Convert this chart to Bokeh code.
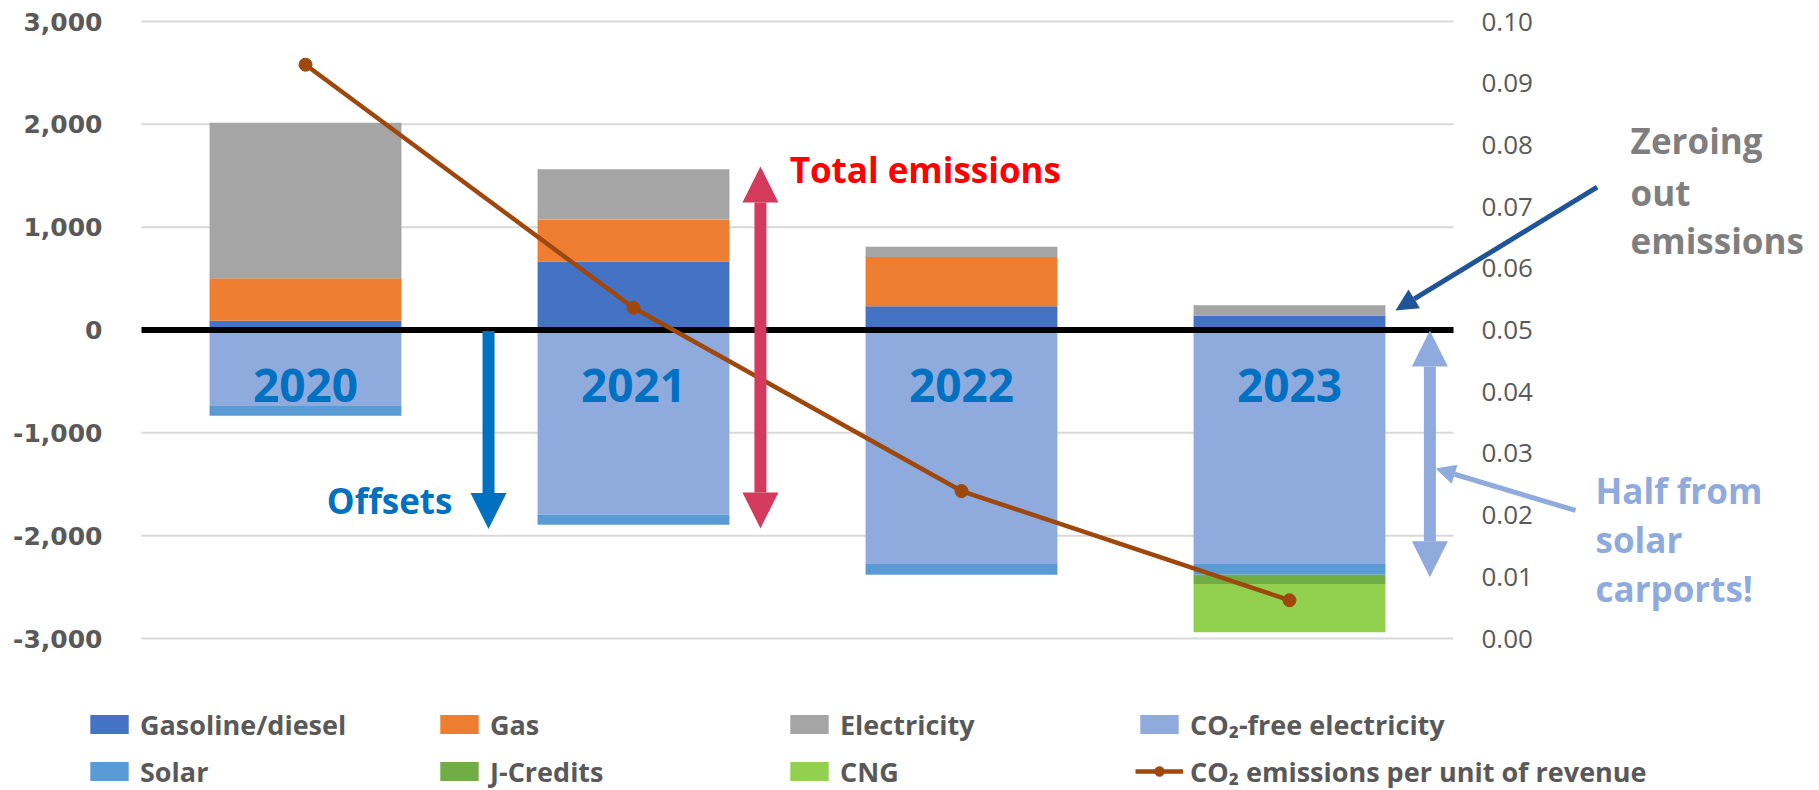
from bokeh.plotting import figure
from bokeh.models import (Range1d, Arrow, NormalHead, Label, Legend, LegendItem, ColumnDataSource)
from bokeh.core.properties import value
from bokeh.embed import file_html
from bokeh.resources import INLINE

# ---------------- data ----------------
years = ["2020", "2021", "2022", "2023"]
gasoline = [90, 666, 230, 140]
gas = [414, 409, 480, 0]
electricity = [1511, 489, 100, 100]
co2_free = [-740, -1795, -2275, -2275]
solar = [-95, -100, -105, -105]
j_credits = [0, 0, 0, -90]
cng = [0, 0, 0, -470]
intensity = [0.093, 0.0536, 0.0239, 0.0062]
left_ticks = [-3000, -2000, -1000, 0, 1000, 2000, 3000]
right_ticks = [0.00, 0.01, 0.02, 0.03, 0.04, 0.05, 0.06, 0.07, 0.08, 0.09, 0.10]

pos_names = ["Gasoline/diesel", "Gas", "Electricity"]
neg_names = ["CO₂-free electricity", "Solar", "J-Credits", "CNG"]
line_name = "CO₂ emissions per unit of revenue"
pos_colors = ["#4472C4", "#ED7D31", "#A5A5A5"]
neg_colors = ["#8FAADC", "#5B9BD5", "#70AD47", "#92D050"]
line_color = "#9E480E"

xpos = [i + 0.5 for i in range(len(years))]
src = ColumnDataSource(dict(x=xpos, years=years, g=gasoline, ga=gas, e=electricity,
                            c=co2_free, s=solar, j=j_credits, n=cng, r=intensity))

# layout geometry (pixels)
PX_PER_UNIT_Y = 617 / 6000.0
PX_PER_CAT = 328.0
PLOT_LEFT = 141
Y_HI = 3000 + 21 / PX_PER_UNIT_Y
Y_LO = -3000 - (790 - 638) / PX_PER_UNIT_Y
X_LO = -PLOT_LEFT / PX_PER_CAT
X_HI = (1819 - PLOT_LEFT) / PX_PER_CAT
n_cat = len(years)

def px_x(px):
    return (px - PLOT_LEFT) / PX_PER_CAT

def to_right(v):
    return (v - left_ticks[0]) / (left_ticks[-1] - left_ticks[0]) * (right_ticks[-1] - right_ticks[0]) + right_ticks[0]

p = figure(width=1819, height=790, x_range=Range1d(X_LO, X_HI), y_range=Range1d(Y_LO, Y_HI),
           output_backend="svg", toolbar_location=None, x_axis_location=None, y_axis_location=None,
           min_border_left=0, min_border_right=0, min_border_top=0, min_border_bottom=0)
p.outline_line_color = None
p.background_fill_color = "white"
p.border_fill_color = "white"
p.xgrid.grid_line_color = None
p.ygrid.grid_line_color = None

p.extra_y_ranges = {"right": Range1d(to_right(Y_LO), to_right(Y_HI))}

# gridlines only across the category area
grid_y = [t for t in left_ticks if t != 0]
p.segment(x0=[0] * len(grid_y), x1=[n_cat] * len(grid_y), y0=grid_y, y1=grid_y,
          line_color="#D9D9D9", line_width=2)

# left value axis labels
p.text(x=[px_x(102)] * len(left_ticks), y=left_ticks, text=["{:,}".format(t) for t in left_ticks],
       text_align="right", text_baseline="middle", text_font=value("DejaVu Sans"), text_font_style="bold",
       text_font_size="25px", text_color="#595959")

W = 0.585
pos_r = p.vbar_stack(["g", "ga", "e"], x="x", width=W, source=src, color=pos_colors, line_width=0)
neg_r = p.vbar_stack(["c", "s", "j", "n"], x="x", width=W, source=src, color=neg_colors, line_width=0)

p.segment(x0=[0], x1=[n_cat], y0=[0], y1=[0], line_color="black", line_width=6)

ln = p.line(x="x", y="r", source=src, y_range_name="right", line_color=line_color, line_width=4.5)
mk = p.scatter(x="x", y="r", source=src, y_range_name="right", size=13, color=line_color)

# right-hand value axis labels
p.text(x=[px_x(1481)] * len(right_ticks), y=right_ticks,
       text=["%.2f" % t for t in right_ticks], y_range_name="right",
       text_align="left", text_baseline="middle", text_font=value("Open Sans"),
       text_font_size="26px", text_color="#595959")

# year labels inside bars
p.text(x="x", y=value(-540), text="years", source=src, text_align="center", text_baseline="middle",
       text_font=value("Open Sans"), text_font_style="bold", text_font_size="46px", text_color="#0070C0")

def arrow(x0, y0, x1, y1, color, lw, size, both=False):
    p.add_layout(Arrow(x_start=x0, y_start=y0, x_end=x1, y_end=y1, line_color=color, line_width=lw,
                       end=NormalHead(size=size, fill_color=color, line_color=color, line_width=0),
                       start=NormalHead(size=size, fill_color=color, line_color=color, line_width=0) if both else None))

arrow(1.058, -10, 1.058, -1935, "#0070C0", 12, 36)
arrow(1.887, -1930, 1.887, 1590, "#D33A5C", 12, 36, both=True)
arrow(3.928, -2404, 3.928, -5, "#8FAADC", 12, 36, both=True)
arrow(4.438, 1389, 3.823, 190, "#1F5597", 5, 22)
arrow(4.372, -1755, 3.945, -1347, "#8FAADC", 5, 20)

def lab(x, y, t, color, size, align="left"):
    p.add_layout(Label(x=x, y=y, text=t, text_align=align, text_baseline="middle", text_font="Open Sans",
                       text_font_style="bold", text_font_size=size, text_color=color))

lab(0.948, -1658, "Offsets", "#0070C0", "35px", align="right")
lab(1.976, 1561, "Total emissions", "#FF0000", "35px")
for t, yy in zip(["Zeroing", "out", "emissions"], [1842, 1337, 870]):
    lab(4.540, yy, t, "#7F7F7F", "35px")
for t, yy in zip(["Half from", "solar", "carports!"], [-1561, -2037, -2514]):
    lab(4.433, yy, t, "#8FAADC", "35px")

items = [LegendItem(label=pos_names[0], renderers=[pos_r[0]]),
         LegendItem(label=pos_names[1], renderers=[pos_r[1]]),
         LegendItem(label=pos_names[2], renderers=[pos_r[2]]),
         LegendItem(label=neg_names[0], renderers=[neg_r[0]]),
         LegendItem(label=neg_names[1], renderers=[neg_r[1]]),
         LegendItem(label=neg_names[2], renderers=[neg_r[2]]),
         LegendItem(label=neg_names[3], renderers=[neg_r[3]]),
         LegendItem(label=line_name, renderers=[ln, mk])]
leg = Legend(items=items, orientation="horizontal", ncols=4, location=(85, -1),
             glyph_width=48, glyph_height=24, label_standoff=7, label_width=288, label_height=40,
             spacing=7, padding=0, margin=0, border_line_alpha=0, background_fill_alpha=0,
             label_text_font="Open Sans", label_text_font_style="bold", label_text_font_size="27px",
             label_text_color="#595959")
p.add_layout(leg)

open("out.html", "w").write(file_html(p, INLINE))
